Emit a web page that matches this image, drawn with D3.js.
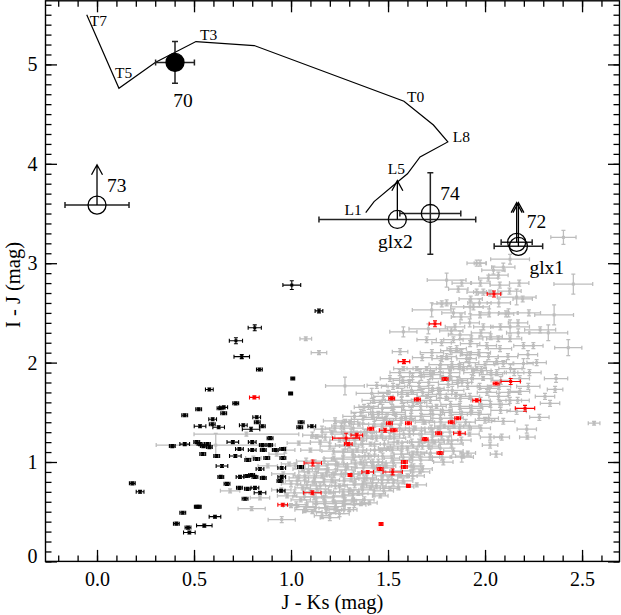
<!DOCTYPE html>
<html>
<head>
<meta charset="utf-8">
<script src="https://cdn.jsdelivr.net/npm/d3@7"></script>
<style>
	body { margin: 0; background: #fff; }
	svg { display: block; }
</style>
</head>
<body>
<div id="chart"></div>
<script>
var chart_size = { width: 621, height: 615 };
var frame = { left: 45.5, right: 619.5, top: 0.8, bottom: 561.4 };

// spectral type sequence (T7 ... L1)
var trackX = [-0.053, 0.113, 0.30, 0.51, 0.81, 1.582, 1.734, 1.808, 1.665, 1.60, 1.55, 1.428, 1.385];
var trackY = [5.50, 4.76, 5.02, 5.23, 5.19, 4.63, 4.39, 4.22, 4.07, 3.90, 3.82, 3.62, 3.51];
var trackLabels = ['T7', 'T5', '', 'T3', '', 'T0', '', 'L8', '', '', 'L5', '', 'L1'];

// labelled objects
var specialNames = ['70', '73', 'glx2', '74', '72', 'glx1'];
var specialX = [0.402, 0.0, 1.548, 1.718, 2.163, 2.172];
var specialY = [5.02, 3.585, 3.44, 3.50, 3.21, 3.17];
var specialXerr = [0.10, 0.165, 0.404, 0.157, 0.08, 0.125];
var specialYerr = [0.21, 0, 0, 0.41, 0, 0];
var specialFilled = [true, false, false, false, false, false];
var specialLimit = [null, 3.99, 3.83, null, 3.61, 3.61];

var xTickLabels = ['0.0', '0.5', '1.0', '1.5', '2.0', '2.5'];
var yTickLabels = ['0', '1', '2', '3', '4', '5'];

// [J-Ks, I-J, err J-Ks, err I-J]
var grayStars = [
	[1.076, 2.24, 0.03, 0.02], [1.144, 2.10, 0.04, 0.02], [0.77, 1.28, 0.27, 0.02], [0.612, 1.17, 0.307, 0.117],
	[0.686, 0.71, 0.05, 0.02], [0.84, 0.64, 0.05, 0.02], [0.797, 0.53, 0.07, 0.02], [0.952, 0.42, 0.07, 0.03],
	[0.926, 1.08, 0.04, 0.02], [0.806, 1.04, 0.04, 0.02], [0.88, 0.96, 0.05, 0.02],
	[0.97, 1.12, 0.05, 0.03], [0.99, 0.98, 0.04, 0.02], [0.96, 0.88, 0.06, 0.02], [1.00, 0.78, 0.05, 0.03],
	[0.98, 0.66, 0.05, 0.02], [1.00, 0.56, 0.04, 0.02], [0.95, 0.72, 0.05, 0.02],
	[1.04, 1.19, 0.06, 0.02], [1.06, 0.93, 0.05, 0.02], [1.04, 0.84, 0.05, 0.03],
	[1.06, 0.74, 0.04, 0.02], [1.05, 0.62, 0.05, 0.02], [1.07, 0.52, 0.05, 0.03],
	[1.11, 1.27, 0.05, 0.03], [1.10, 1.12, 0.05, 0.02], [1.09, 0.90, 0.05, 0.02],
	[1.12, 0.80, 0.05, 0.02], [1.10, 0.70, 0.04, 0.02], [1.13, 0.60, 0.05, 0.03], [1.11, 0.50, 0.05, 0.02],
	[1.132, 1.255, 0.03, 0.02],
	[1.16, 1.33, 0.04, 0.03], [1.15, 1.20, 0.05, 0.02], [1.14, 0.96, 0.05, 0.02],
	[1.16, 0.86, 0.04, 0.02], [1.15, 0.76, 0.05, 0.03], [1.17, 0.64, 0.05, 0.02], [1.184, 0.535, 0.04, 0.02],
	[1.16, 0.46, 0.04, 0.03],
	[1.227, 1.415, 0.06, 0.03], [1.21, 1.30, 0.05, 0.02], [1.20, 1.16, 0.05, 0.03], [1.22, 1.04, 0.05, 0.02],
	[1.19, 0.92, 0.05, 0.02], [1.21, 0.82, 0.04, 0.03], [1.20, 0.70, 0.05, 0.02], [1.22, 0.60, 0.05, 0.02],
	[1.236, 0.52, 0.04, 0.02], [1.20, 0.44, 0.05, 0.03],
	[1.278, 1.765, 0.10, 0.09], [1.26, 1.36, 0.05, 0.03], [1.25, 1.22, 0.05, 0.02], [1.27, 1.10, 0.05, 0.03],
	[1.24, 0.98, 0.05, 0.02], [1.26, 0.88, 0.05, 0.03], [1.25, 0.76, 0.04, 0.02], [1.27, 0.66, 0.05, 0.02],
	[1.27, 0.585, 0.04, 0.02], [1.25, 0.48, 0.05, 0.03],
	[1.304, 1.405, 0.04, 0.02], [1.31, 1.30, 0.05, 0.03], [1.30, 1.16, 0.05, 0.02], [1.32, 1.05, 0.05, 0.03],
	[1.29, 0.95, 0.05, 0.02], [1.31, 0.83, 0.04, 0.03], [1.30, 0.72, 0.05, 0.02], [1.32, 0.62, 0.05, 0.02],
	[1.30, 0.52, 0.04, 0.02],
	[1.36, 1.50, 0.05, 0.03], [1.35, 1.38, 0.05, 0.02], [1.37, 1.24, 0.05, 0.03], [1.34, 1.12, 0.05, 0.02],
	[1.36, 1.00, 0.05, 0.03], [1.35, 0.88, 0.04, 0.02], [1.347, 0.685, 0.05, 0.02], [1.37, 0.78, 0.05, 0.03],
	[1.36, 0.58, 0.04, 0.02],
	[1.416, 1.69, 0.08, 0.05], [1.40, 1.56, 0.05, 0.03], [1.42, 1.45, 0.05, 0.02], [1.39, 1.30, 0.05, 0.03],
	[1.41, 1.18, 0.05, 0.02], [1.40, 1.06, 0.05, 0.03], [1.42, 0.96, 0.04, 0.02], [1.39, 0.84, 0.05, 0.03],
	[1.41, 0.74, 0.05, 0.02], [1.404, 0.59, 0.04, 0.02],
	[1.442, 1.77, 0.05, 0.03], [1.46, 1.60, 0.05, 0.02], [1.45, 1.48, 0.05, 0.03], [1.47, 1.36, 0.05, 0.02],
	[1.44, 1.24, 0.05, 0.03], [1.46, 1.12, 0.05, 0.02], [1.45, 1.00, 0.04, 0.03], [1.47, 0.86, 0.05, 0.02],
	[1.44, 0.76, 0.05, 0.03], [1.46, 0.66, 0.04, 0.02],
	[1.51, 1.84, 0.05, 0.03], [1.50, 1.70, 0.05, 0.02], [1.52, 1.55, 0.05, 0.03], [1.49, 1.44, 0.05, 0.02],
	[1.51, 1.26, 0.05, 0.03], [1.50, 1.14, 0.05, 0.02], [1.52, 1.04, 0.04, 0.03], [1.49, 0.96, 0.05, 0.02],
	[1.51, 0.735, 0.05, 0.02], [1.50, 0.82, 0.05, 0.03],
	[1.562, 2.11, 0.04, 0.03], [1.56, 1.90, 0.05, 0.03], [1.55, 1.76, 0.05, 0.02], [1.57, 1.62, 0.05, 0.03],
	[1.54, 1.48, 0.05, 0.02], [1.56, 1.34, 0.05, 0.03], [1.55, 1.20, 0.05, 0.02], [1.57, 1.08, 0.04, 0.03],
	[1.553, 0.75, 0.08, 0.03], [1.56, 0.86, 0.05, 0.02],
	[1.579, 2.31, 0.07, 0.05], [1.579, 1.94, 0.05, 0.02], [1.61, 1.80, 0.05, 0.03], [1.60, 1.68, 0.05, 0.02],
	[1.62, 1.52, 0.05, 0.03], [1.59, 1.44, 0.05, 0.02], [1.61, 1.28, 0.05, 0.03], [1.60, 1.14, 0.05, 0.02],
	[1.631, 0.95, 0.05, 0.03], [1.62, 1.05, 0.04, 0.02], [1.60, 0.86, 0.05, 0.02],
	[1.648, 1.94, 0.05, 0.02], [1.665, 1.90, 0.05, 0.03], [1.66, 1.76, 0.05, 0.03], [1.65, 1.60, 0.05, 0.02],
	[1.67, 1.46, 0.05, 0.03], [1.64, 1.34, 0.05, 0.02], [1.66, 1.20, 0.05, 0.03], [1.665, 0.90, 0.05, 0.02],
	[1.648, 0.77, 0.05, 0.02], [1.65, 1.10, 0.05, 0.03],
	[1.725, 2.53, 0.10, 0.07], [1.708, 2.34, 0.10, 0.05], [1.699, 2.23, 0.05, 0.03], [1.699, 1.94, 0.05, 0.02],
	[1.71, 1.80, 0.05, 0.03], [1.70, 1.66, 0.05, 0.02], [1.72, 1.52, 0.05, 0.03], [1.69, 1.40, 0.05, 0.02],
	[1.716, 1.05, 0.05, 0.03], [1.71, 1.16, 0.05, 0.02], [1.73, 1.30, 0.04, 0.03],
	[1.777, 2.59, 0.05, 0.03], [1.734, 1.90, 0.05, 0.02], [1.768, 1.94, 0.05, 0.03], [1.777, 2.04, 0.05, 0.03],
	[1.76, 1.72, 0.05, 0.03], [1.75, 1.56, 0.05, 0.02], [1.77, 1.44, 0.05, 0.03], [1.74, 1.20, 0.05, 0.02],
	[1.785, 1.00, 0.05, 0.03], [1.76, 1.34, 0.05, 0.02],
	[1.802, 2.83, 0.10, 0.07], [1.802, 2.60, 0.05, 0.03], [1.802, 2.06, 0.05, 0.03], [1.82, 1.94, 0.05, 0.02],
	[1.82, 1.90, 0.05, 0.03], [1.81, 1.78, 0.05, 0.03], [1.80, 1.64, 0.05, 0.02], [1.82, 1.50, 0.05, 0.03],
	[1.79, 1.36, 0.05, 0.02], [1.81, 1.22, 0.05, 0.03], [1.837, 1.11, 0.05, 0.03],
	[1.88, 2.80, 0.05, 0.03], [1.862, 2.74, 0.05, 0.03], [1.837, 2.50, 0.06, 0.04], [1.845, 2.36, 0.05, 0.03],
	[1.837, 2.23, 0.05, 0.03], [1.854, 2.14, 0.05, 0.03], [1.888, 1.94, 0.05, 0.02], [1.86, 1.82, 0.05, 0.03],
	[1.85, 1.68, 0.05, 0.02], [1.87, 1.56, 0.05, 0.03], [1.84, 1.36, 0.05, 0.02], [1.88, 1.05, 0.06, 0.05],
	[1.888, 1.06, 0.04, 0.02],
	[1.957, 3.00, 0.05, 0.03], [1.957, 2.71, 0.05, 0.03], [1.923, 2.56, 0.10, 0.07], [1.923, 2.19, 0.05, 0.03],
	[1.905, 2.04, 0.05, 0.03], [1.923, 2.08, 0.05, 0.03], [1.957, 1.94, 0.05, 0.02], [1.94, 1.90, 0.05, 0.03],
	[1.91, 1.76, 0.05, 0.03], [1.93, 1.50, 0.05, 0.02], [1.90, 1.40, 0.05, 0.03], [1.92, 1.28, 0.05, 0.02],
	[1.911, 1.09, 0.04, 0.02],
	[1.974, 3.00, 0.03, 0.03], [2.017, 2.85, 0.05, 0.03], [1.991, 2.71, 0.05, 0.03], [1.94, 2.56, 0.05, 0.03],
	[1.974, 2.48, 0.05, 0.03], [1.991, 2.36, 0.05, 0.03], [2.009, 2.17, 0.05, 0.03], [2.00, 1.98, 0.05, 0.03],
	[1.99, 1.84, 0.05, 0.02], [2.01, 1.70, 0.05, 0.03], [1.98, 1.56, 0.05, 0.02], [2.00, 1.42, 0.05, 0.03],
	[2.026, 1.25, 0.05, 0.03], [2.026, 1.17, 0.04, 0.03],
	[2.043, 2.93, 0.06, 0.04], [2.094, 2.96, 0.06, 0.04], [2.129, 3.04, 0.10, 0.05], [2.069, 2.88, 0.05, 0.03],
	[2.108, 2.49, 0.04, 0.03], [2.129, 2.36, 0.10, 0.07], [2.077, 2.14, 0.06, 0.03], [2.06, 2.01, 0.05, 0.03],
	[2.094, 1.99, 0.05, 0.03], [2.07, 1.66, 0.05, 0.03], [2.094, 1.41, 0.06, 0.03], [2.086, 1.25, 0.04, 0.03],
	[2.057, 1.08, 0.03, 0.03], [2.08, 1.52, 0.05, 0.03], [2.06, 1.90, 0.05, 0.03],
	[2.163, 2.66, 0.10, 0.08], [2.194, 2.64, 0.05, 0.03], [2.198, 2.17, 0.05, 0.03], [2.249, 2.17, 0.05, 0.03],
	[2.198, 1.99, 0.05, 0.05], [2.266, 2.00, 0.05, 0.03], [2.223, 1.76, 0.06, 0.03], [2.18, 1.71, 0.05, 0.03],
	[2.163, 1.51, 0.05, 0.03], [2.215, 1.33, 0.05, 0.04], [2.218, 1.25, 0.04, 0.02], [2.15, 1.90, 0.05, 0.03],
	[2.17, 2.40, 0.05, 0.03],
	[2.404, 3.26, 0.065, 0.07], [2.455, 2.79, 0.10, 0.10], [2.356, 2.48, 0.10, 0.10], [2.284, 2.33, 0.08, 0.03],
	[2.326, 2.30, 0.10, 0.08], [2.429, 2.15, 0.07, 0.08], [2.366, 1.84, 0.06, 0.04], [2.361, 1.73, 0.04, 0.03],
	[2.309, 1.66, 0.05, 0.03], [2.335, 1.59, 0.05, 0.03], [2.28, 1.45, 0.05, 0.03], [2.562, 1.39, 0.03, 0.02],
	// the crowded middle of the band
	[1.022, 0.96, 0.05, 0.03], [1.031, 0.81, 0.06, 0.04], [1.018, 0.69, 0.05, 0.03], [1.027, 0.57, 0.06, 0.03],
	[1.078, 1.01, 0.05, 0.03], [1.071, 0.86, 0.06, 0.04], [1.082, 0.77, 0.05, 0.03], [1.069, 0.65, 0.06, 0.03], [1.079, 0.55, 0.05, 0.04],
	[1.128, 0.93, 0.06, 0.03], [1.121, 0.84, 0.05, 0.04], [1.133, 0.73, 0.06, 0.03], [1.118, 0.65, 0.05, 0.03], [1.127, 0.54, 0.06, 0.04],
	[1.176, 1.25, 0.05, 0.03], [1.171, 1.01, 0.06, 0.03], [1.182, 0.89, 0.05, 0.04], [1.169, 0.80, 0.06, 0.03], [1.178, 0.69, 0.05, 0.03], [1.173, 0.58, 0.06, 0.04], [1.181, 0.49, 0.05, 0.03],
	[1.226, 1.34, 0.05, 0.03], [1.219, 1.11, 0.06, 0.03], [1.231, 0.97, 0.05, 0.04], [1.222, 0.87, 0.06, 0.03], [1.228, 0.76, 0.05, 0.03], [1.218, 0.65, 0.06, 0.04], [1.229, 0.55, 0.05, 0.03],
	[1.276, 1.40, 0.05, 0.03], [1.271, 1.28, 0.06, 0.03], [1.279, 1.17, 0.05, 0.04], [1.268, 1.03, 0.06, 0.03], [1.281, 0.92, 0.05, 0.03], [1.274, 0.81, 0.06, 0.04], [1.269, 0.70, 0.05, 0.03], [1.278, 0.61, 0.06, 0.03], [1.272, 0.52, 0.05, 0.04],
	[1.327, 1.46, 0.06, 0.03], [1.321, 1.34, 0.05, 0.04], [1.329, 1.22, 0.06, 0.03], [1.318, 1.10, 0.05, 0.03], [1.331, 0.98, 0.06, 0.04], [1.322, 0.88, 0.05, 0.03], [1.328, 0.77, 0.06, 0.03], [1.319, 0.67, 0.05, 0.04], [1.326, 0.57, 0.06, 0.03],
	[1.376, 1.55, 0.05, 0.03], [1.371, 1.43, 0.06, 0.04], [1.379, 1.30, 0.05, 0.03], [1.368, 1.18, 0.06, 0.03], [1.381, 1.06, 0.05, 0.04], [1.372, 0.94, 0.06, 0.03], [1.377, 0.83, 0.05, 0.03], [1.369, 0.72, 0.06, 0.04], [1.378, 0.62, 0.05, 0.03],
	[1.426, 1.62, 0.06, 0.03], [1.421, 1.50, 0.05, 0.04], [1.429, 1.38, 0.06, 0.03], [1.418, 1.26, 0.05, 0.03], [1.431, 1.12, 0.06, 0.04], [1.422, 1.00, 0.05, 0.03], [1.428, 0.90, 0.06, 0.03], [1.419, 0.79, 0.05, 0.04], [1.427, 0.68, 0.06, 0.03],
	[1.476, 1.66, 0.05, 0.03], [1.471, 1.54, 0.06, 0.04], [1.479, 1.42, 0.05, 0.03], [1.468, 1.30, 0.06, 0.03], [1.481, 1.18, 0.05, 0.04], [1.472, 1.06, 0.06, 0.03], [1.477, 0.94, 0.05, 0.03], [1.469, 0.82, 0.06, 0.04], [1.478, 0.71, 0.05, 0.03],
	[1.526, 1.76, 0.06, 0.03], [1.521, 1.62, 0.05, 0.04], [1.529, 1.50, 0.06, 0.03], [1.518, 1.38, 0.05, 0.03], [1.531, 1.24, 0.06, 0.04], [1.522, 1.12, 0.05, 0.03], [1.528, 0.99, 0.06, 0.03], [1.519, 0.87, 0.05, 0.04], [1.527, 0.79, 0.06, 0.03],
	[1.576, 1.82, 0.05, 0.03], [1.571, 1.70, 0.06, 0.04], [1.579, 1.56, 0.05, 0.03], [1.568, 1.42, 0.06, 0.03], [1.581, 1.28, 0.05, 0.04], [1.572, 1.16, 0.06, 0.03], [1.577, 1.02, 0.05, 0.03], [1.569, 0.91, 0.06, 0.04], [1.578, 0.81, 0.05, 0.03],
	[1.626, 1.86, 0.06, 0.03], [1.621, 1.72, 0.05, 0.04], [1.629, 1.60, 0.06, 0.03], [1.618, 1.46, 0.05, 0.03], [1.631, 1.32, 0.06, 0.04], [1.622, 1.20, 0.05, 0.03], [1.628, 1.08, 0.06, 0.03], [1.619, 0.96, 0.05, 0.04], [1.627, 0.86, 0.06, 0.03],
	[1.676, 2.05, 0.05, 0.03], [1.671, 1.86, 0.06, 0.04], [1.679, 1.70, 0.05, 0.03], [1.668, 1.56, 0.06, 0.03], [1.681, 1.42, 0.05, 0.04], [1.672, 1.28, 0.06, 0.03], [1.677, 1.16, 0.05, 0.03], [1.669, 1.02, 0.06, 0.04], [1.678, 0.93, 0.05, 0.03],
	[1.726, 2.10, 0.06, 0.03], [1.721, 1.88, 0.05, 0.04], [1.729, 1.74, 0.06, 0.03], [1.718, 1.62, 0.05, 0.03], [1.731, 1.48, 0.06, 0.04], [1.722, 1.34, 0.05, 0.03], [1.728, 1.22, 0.06, 0.03], [1.719, 1.09, 0.05, 0.04],
	[1.776, 2.20, 0.05, 0.03], [1.771, 1.98, 0.06, 0.04], [1.779, 1.84, 0.05, 0.03], [1.768, 1.68, 0.06, 0.03], [1.781, 1.52, 0.05, 0.04], [1.772, 1.40, 0.06, 0.03], [1.777, 1.26, 0.05, 0.03], [1.769, 1.14, 0.06, 0.04], [1.778, 1.05, 0.05, 0.03],
	[1.826, 2.32, 0.06, 0.03], [1.821, 2.12, 0.05, 0.04], [1.829, 1.98, 0.06, 0.03], [1.818, 1.86, 0.05, 0.03], [1.831, 1.72, 0.06, 0.04], [1.822, 1.58, 0.05, 0.03], [1.828, 1.44, 0.06, 0.03], [1.819, 1.30, 0.05, 0.04], [1.827, 1.18, 0.06, 0.03],
	[1.876, 2.46, 0.05, 0.03], [1.871, 2.28, 0.06, 0.04], [1.879, 2.10, 0.05, 0.03], [1.868, 1.96, 0.06, 0.03], [1.881, 1.80, 0.05, 0.04], [1.872, 1.64, 0.06, 0.03], [1.877, 1.48, 0.05, 0.03], [1.869, 1.34, 0.06, 0.04], [1.878, 1.22, 0.05, 0.03],
	[1.926, 2.64, 0.06, 0.03], [1.921, 2.40, 0.05, 0.04], [1.929, 2.24, 0.06, 0.03], [1.918, 2.00, 0.05, 0.03], [1.931, 1.84, 0.06, 0.04], [1.922, 1.66, 0.05, 0.03], [1.928, 1.54, 0.06, 0.03], [1.919, 1.36, 0.05, 0.04],
	[1.976, 2.80, 0.05, 0.03], [1.971, 2.60, 0.06, 0.04], [1.979, 2.30, 0.05, 0.03], [1.968, 2.10, 0.06, 0.03], [1.981, 1.92, 0.05, 0.04], [1.972, 1.76, 0.06, 0.03], [1.977, 1.62, 0.05, 0.03], [1.969, 1.48, 0.06, 0.04], [1.978, 1.34, 0.05, 0.03],
	[2.026, 2.70, 0.06, 0.03], [2.021, 2.50, 0.05, 0.04], [2.029, 2.26, 0.06, 0.03], [2.018, 2.06, 0.05, 0.03], [2.031, 1.88, 0.06, 0.04], [2.022, 1.74, 0.05, 0.03], [2.028, 1.58, 0.06, 0.03], [2.019, 1.44, 0.05, 0.04],
	[2.076, 2.78, 0.05, 0.03], [2.071, 2.60, 0.06, 0.04], [2.079, 2.36, 0.05, 0.03], [2.068, 2.24, 0.06, 0.03], [2.081, 1.82, 0.05, 0.04], [2.072, 1.76, 0.06, 0.03], [2.077, 1.58, 0.05, 0.03],
	[2.126, 2.72, 0.06, 0.03], [2.121, 2.50, 0.05, 0.04], [2.129, 2.24, 0.06, 0.03], [2.118, 2.06, 0.05, 0.03], [2.131, 1.94, 0.06, 0.04], [2.122, 1.70, 0.05, 0.03], [2.128, 1.62, 0.06, 0.03],
	[2.176, 2.80, 0.05, 0.03], [2.171, 2.30, 0.06, 0.04], [2.179, 1.84, 0.05, 0.03], [2.168, 1.62, 0.06, 0.03],
	[2.226, 2.50, 0.06, 0.03], [2.221, 2.08, 0.05, 0.04], [2.229, 1.90, 0.06, 0.03]
];

var blackStars = [
	[1.004, 2.78, 0.046, 0.044], [1.144, 2.52, 0.02, 0.02], [0.813, 2.35, 0.034, 0.03], [0.716, 2.22, 0.034, 0.03],
	[0.746, 2.06, 0.04, 0.02], [0.837, 1.93, 0.015, 0.015], [1.009, 1.84, 0.01, 0.015], [0.998, 1.69, 0.01, 0.015],
	[0.579, 1.73, 0.02, 0.015], [0.715, 1.59, 0.015, 0.015], [0.653, 1.55, 0.02, 0.015], [0.524, 1.53, 0.015, 0.015],
	[0.653, 1.49, 0.015, 0.015], [0.452, 1.47, 0.015, 0.015], [0.596, 1.43, 0.02, 0.015], [0.823, 1.45, 0.02, 0.015],
	[0.826, 1.40, 0.015, 0.015], [1.052, 1.40, 0.015, 0.015], [1.107, 1.36, 0.02, 0.015], [0.531, 1.36, 0.03, 0.015],
	[0.627, 1.35, 0.03, 0.015], [0.754, 1.37, 0.02, 0.015], [0.794, 1.33, 0.045, 0.02], [0.852, 1.36, 0.015, 0.015],
	[0.388, 1.16, 0.015, 0.015], [0.452, 1.18, 0.025, 0.015], [0.514, 1.20, 0.015, 0.015], [0.531, 1.18, 0.015, 0.015],
	[0.548, 1.16, 0.015, 0.015], [0.569, 1.18, 0.015, 0.015], [0.579, 1.15, 0.015, 0.015], [0.70, 1.20, 0.03, 0.015],
	[0.80, 1.20, 0.02, 0.015], [0.852, 1.17, 0.015, 0.015], [0.892, 1.24, 0.015, 0.015], [0.734, 1.13, 0.02, 0.015],
	[0.80, 1.12, 0.02, 0.015], [0.857, 1.12, 0.015, 0.015], [0.919, 1.12, 0.015, 0.015], [0.957, 1.13, 0.015, 0.015],
	[0.545, 1.08, 0.015, 0.015], [0.617, 1.06, 0.015, 0.015], [0.713, 1.06, 0.03, 0.015], [0.777, 1.02, 0.015, 0.015],
	[0.823, 1.03, 0.015, 0.015], [0.875, 1.04, 0.015, 0.015], [0.644, 0.96, 0.03, 0.015], [0.84, 0.93, 0.02, 0.015],
	[0.952, 0.94, 0.02, 0.015], [0.638, 0.85, 0.015, 0.015], [0.737, 0.85, 0.02, 0.015], [0.772, 0.86, 0.015, 0.015],
	[0.797, 0.87, 0.015, 0.015], [0.814, 0.85, 0.015, 0.015], [0.857, 0.84, 0.015, 0.015], [0.952, 0.85, 0.02, 0.015],
	[0.670, 0.78, 0.015, 0.015], [0.734, 0.74, 0.015, 0.015], [0.775, 0.73, 0.015, 0.015], [0.814, 0.74, 0.02, 0.015],
	[0.840, 0.69, 0.03, 0.015], [0.763, 0.63, 0.015, 0.015], [0.182, 0.785, 0.015, 0.015], [0.222, 0.70, 0.02, 0.015],
	[0.522, 0.55, 0.015, 0.015], [0.442, 0.49, 0.015, 0.015], [0.608, 0.45, 0.03, 0.015], [0.409, 0.38, 0.015, 0.015],
	[0.553, 0.36, 0.04, 0.015], [0.469, 0.34, 0.015, 0.015], [0.476, 0.29, 0.03, 0.015], [1.045, 1.35, 0.015, 0.015],
	[0.89, 1.17, 0.015, 0.015], [0.958, 1.04, 0.015, 0.015], [1.049, 0.95, 0.015, 0.015], [0.943, 0.81, 0.015, 0.015],
	[0.949, 0.71, 0.02, 0.015], [0.634, 1.54, 0.015, 0.015], [0.594, 1.38, 0.015, 0.015], [0.517, 0.55, 0.015, 0.015]
];

var redStars = [
	[0.811, 1.65, 0.025, 0.015], [0.957, 0.57, 0.025, 0.015], [1.112, 0.99, 0.045, 0.03], [1.11, 0.69, 0.045, 0.02],
	[1.794, 1.835, 0.015, 0.015], [1.519, 1.64, 0.015, 0.015], [1.651, 1.63, 0.015, 0.015], [1.957, 1.62, 0.02, 0.015],
	[1.859, 1.44, 0.015, 0.015], [1.826, 1.40, 0.015, 0.015], [1.507, 1.39, 0.015, 0.015], [1.605, 1.39, 0.015, 0.015],
	[1.411, 1.335, 0.015, 0.015], [1.485, 1.32, 0.03, 0.02], [1.531, 1.32, 0.015, 0.015], [1.761, 1.29, 0.015, 0.015],
	[1.868, 1.29, 0.03, 0.02], [1.339, 1.27, 0.03, 0.02], [1.284, 1.24, 0.07, 0.05], [1.295, 1.18, 0.02, 0.015],
	[1.691, 1.23, 0.015, 0.015], [1.768, 1.09, 0.015, 0.015], [1.584, 1.00, 0.015, 0.015], [1.584, 0.95, 0.015, 0.015],
	[1.459, 0.93, 0.015, 0.015], [1.395, 0.90, 0.03, 0.015], [1.524, 0.90, 0.05, 0.03], [1.304, 0.87, 0.01, 0.015],
	[1.605, 0.76, 0.01, 0.015], [1.464, 0.376, 0.01, 0.015], [1.742, 2.39, 0.03, 0.03], [1.582, 2.01, 0.03, 0.02],
	[2.046, 2.69, 0.035, 0.03], [2.057, 1.79, 0.015, 0.015], [2.132, 1.81, 0.05, 0.03], [2.206, 1.54, 0.05, 0.03]
];

var fontFamily = '"Liberation Serif", "Times New Roman", Times, "DejaVu Serif", serif';

var x = d3.scaleLinear()
	.domain([-0.2655, 2.693])
	.range([frame.left, frame.right]);

var y = d3.scaleLinear()
	.domain([0, 5.64])
	.range([frame.bottom, frame.top]);

var svg = d3.select('#chart')
	.append('svg')
	.attr('width', chart_size.width)
	.attr('height', chart_size.height)
	.style('font-family', fontFamily);

// error bar cross with small end caps
function errorPath(d, cap) {
	let cx = x(d[0]), cy = y(d[1]);
	let x0 = x(d[0] - d[2]), x1 = x(d[0] + d[2]);
	let y0 = y(d[1] - d[3]), y1 = y(d[1] + d[3]);
	let p = 'M' + x0 + ',' + cy + 'H' + x1;
	p += 'M' + x0 + ',' + (cy - cap) + 'V' + (cy + cap);
	p += 'M' + x1 + ',' + (cy - cap) + 'V' + (cy + cap);
	if (d[3] > 0) {
		p += 'M' + cx + ',' + y0 + 'V' + y1;
		p += 'M' + (cx - cap) + ',' + y0 + 'H' + (cx + cap);
		p += 'M' + (cx - cap) + ',' + y1 + 'H' + (cx + cap);
	}
	return p;
}

function drawStars(data, color, cls, width) {
	let g = svg.append('g').attr('class', cls);
	g.selectAll('path')
		.data(data)
		.enter()
		.append('path')
		.attr('d', function (d) {
			return errorPath(d, 2);
		})
		.attr('fill', 'none')
		.attr('stroke', color)
		.attr('stroke-width', width);
	g.selectAll('rect')
		.data(data)
		.enter()
		.append('rect')
		.attr('x', function (d) { return x(d[0]) - 1.5; })
		.attr('y', function (d) { return y(d[1]) - 1.5; })
		.attr('width', 3)
		.attr('height', 3)
		.attr('fill', color);
}

drawStars(grayStars, '#bdbdbd', 'gray', 1.25);
drawStars(blackStars, '#000', 'black', 1.1);
drawStars(redStars, '#ff0000', 'red', 1.1);

// spectral sequence
var line = d3.line()
	.x(function (d, i) { return x(trackX[i]); })
	.y(function (d, i) { return y(trackY[i]); });

svg.append('path')
	.datum(trackX)
	.attr('d', line)
	.attr('fill', 'none')
	.attr('stroke', '#000')
	.attr('stroke-width', 1.2);

var trackLabelOffsets = {
	T7: [3, 11, 'start'], T5: [-4, -10, 'start'], T3: [4, -2, 'start'], T0: [3, 1, 'start'],
	L8: [5, 0, 'start'], L5: [-10, -8, 'start'], L1: [-4, 2, 'end']
};

svg.append('g')
	.selectAll('text')
	.data(trackLabels.map(function (t, i) { return { name: t, i: i }; }).filter(function (d) { return d.name !== ''; }))
	.enter()
	.append('text')
	.attr('x', function (d) { return x(trackX[d.i]) + trackLabelOffsets[d.name][0]; })
	.attr('y', function (d) { return y(trackY[d.i]) + trackLabelOffsets[d.name][1]; })
	.attr('text-anchor', function (d) { return trackLabelOffsets[d.name][2]; })
	.attr('font-size', 15.5)
	.text(function (d) { return d.name; });

// labelled objects: error bars, upper-limit arrows, circles, names
var specials = specialNames.map(function (n, i) {
	return { name: n, x: specialX[i], y: specialY[i], ex: specialXerr[i], ey: specialYerr[i], filled: specialFilled[i], limit: specialLimit[i] };
});

var sg = svg.append('g').attr('class', 'specials');

sg.selectAll('path.err')
	.data(specials)
	.enter()
	.append('path')
	.attr('class', 'err')
	.attr('d', function (d) { return errorPath([d.x, d.y, d.ex, d.ey], 3); })
	.attr('fill', 'none')
	.attr('stroke', '#222')
	.attr('stroke-width', 1.5);

sg.selectAll('path.arrow')
	.data(specials.filter(function (d) { return d.limit !== null; }))
	.enter()
	.append('path')
	.attr('class', 'arrow')
	.attr('d', function (d) {
		let cx = x(d.x), ty = y(d.limit);
		return 'M' + cx + ',' + y(d.y) + 'V' + ty + 'M' + (cx - 5.5) + ',' + (ty + 10) + 'L' + cx + ',' + ty + 'L' + (cx + 5.5) + ',' + (ty + 10);
	})
	.attr('fill', 'none')
	.attr('stroke', '#000')
	.attr('stroke-width', 1.3);

sg.selectAll('circle')
	.data(specials)
	.enter()
	.append('circle')
	.attr('cx', function (d) { return x(d.x); })
	.attr('cy', function (d) { return y(d.y); })
	.attr('r', 9)
	.attr('fill', function (d) { return d.filled ? '#000' : 'none'; })
	.attr('stroke', '#000')
	.attr('stroke-width', 1.3);

var specialLabelOffsets = {
	'70': [8, 45, 'middle'], '73': [10, -13, 'start'], 'glx2': [-2, 29, 'middle'],
	'74': [10, -14, 'start'], '72': [10, -14, 'start'], 'glx1': [11, 28, 'start']
};

sg.selectAll('text')
	.data(specials)
	.enter()
	.append('text')
	.attr('x', function (d) { return x(d.x) + specialLabelOffsets[d.name][0]; })
	.attr('y', function (d) { return y(d.y) + specialLabelOffsets[d.name][1]; })
	.attr('text-anchor', function (d) { return specialLabelOffsets[d.name][2]; })
	.attr('font-size', 19.5)
	.text(function (d) { return d.name; });

// axes: major + minor ticks on all four sides
var xMajor = xTickLabels.map(Number);
var xMinor = d3.range(-2, 27).map(function (i) { return i / 10; });
var yMajor = yTickLabels.map(Number);
var yMinor = d3.range(0, 57).map(function (i) { return i / 10; });

function tickAxis(axisFn, scale, values, size, fmt, pad) {
	return axisFn(scale).tickValues(values).tickSizeInner(size).tickSizeOuter(0).tickPadding(pad).tickFormat(fmt);
}

var axes = [
	[d3.axisBottom, x, 'translate(0,' + frame.bottom + ')', xMajor, xMinor, function (d, i) { return xTickLabels[i]; }, 'xb', 10],
	[d3.axisTop, x, 'translate(0,' + frame.top + ')', xMajor, xMinor, '', 'xt', 12],
	[d3.axisLeft, y, 'translate(' + frame.left + ',0)', yMajor, yMinor, function (d, i) { return yTickLabels[i]; }, 'yl', 8],
	[d3.axisRight, y, 'translate(' + frame.right + ',0)', yMajor, yMinor, '', 'yr', 12]
];

axes.forEach(function (a) {
	let g = svg.append('g').attr('class', a[6]).attr('transform', a[2]);
	g.append('g').call(tickAxis(a[0], a[1], a[4], -6, '', a[7]));
	g.append('g').attr('class', 'major').call(tickAxis(a[0], a[1], a[3], -11.5, a[5], a[7]));
	g.selectAll('.domain').remove();
	g.selectAll('line').attr('stroke', '#000').attr('stroke-width', 1.3);
	g.selectAll('text').attr('font-family', fontFamily).attr('font-size', 20).attr('fill', '#000');
});

// lowest y label sits just above the corner
svg.selectAll('.yl .major .tick text')
	.filter(function (d) { return d === 0; })
	.attr('dy', '0.05em');

svg.append('rect')
	.attr('x', frame.left)
	.attr('y', frame.top)
	.attr('width', frame.right - frame.left)
	.attr('height', frame.bottom - frame.top)
	.attr('fill', 'none')
	.attr('stroke', '#000')
	.attr('stroke-width', 1.4);

svg.append('text')
	.attr('x', (frame.left + frame.right) / 2)
	.attr('y', 609)
	.attr('text-anchor', 'middle')
	.attr('font-size', 20.5)
	.text('J - Ks (mag)');

svg.append('text')
	.attr('transform', 'translate(20,285) rotate(-90)')
	.attr('text-anchor', 'middle')
	.attr('font-size', 20.5)
	.text('I - J (mag)');
</script>
</body>
</html>
